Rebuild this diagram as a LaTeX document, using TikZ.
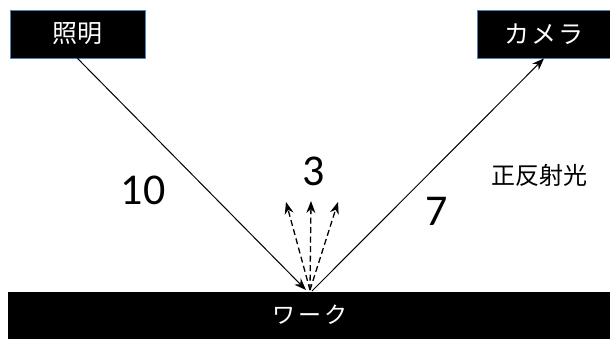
\documentclass[tikz,border=0pt]{standalone}
\usepackage{fontspec}
\usepackage{tikz}
\usetikzlibrary{arrows.meta}
\setmainfont{Carlito}
\newfontfamily\jpfont{Noto Sans CJK JP}
\definecolor{boxedge}{RGB}{79,129,189}
\tikzset{
  label box/.style={draw=boxedge,line width=0.8pt,fill=black,text=white,
    minimum height=48,inner sep=0pt,font=\jpfont\fontsize{25}{25}\selectfont},
  ray/.style={line width=1pt,-{Stealth[length=12pt,width=9pt]}},
  scatter ray/.style={ray,line width=1.3pt,dash pattern=on 6pt off 3.5pt},
  big num/.style={font=\fontsize{44}{44}\selectfont}
}
\begin{document}
\begin{tikzpicture}[x=1pt,y=-1pt]
\useasboundingbox (0,0) rectangle (610,338);
% boxes:
\node[label box,minimum width=135] (light) at (77.5,34) {照明};
\node[label box,minimum width=134] (camera) at (544,34) {カ\hspace{2pt}メ\hspace{2pt}ラ};
\path[fill=black] (8,292) rectangle (612,340);
\node[font=\jpfont\fontsize{23}{23}\selectfont,text=white] (work) at (310,315) {ワ\hspace{3pt}ー\hspace{3pt}ク};
% rays:
\coordinate (hitL) at (306,290);
\coordinate (hitR) at (312,291);
\coordinate (hitC) at (310,290);
\coordinate (sc1) at (286,202);
\coordinate (sc2) at (311,201);
\coordinate (sc3) at (338,202);
\draw[ray] (light.south) -- (hitL);
\draw[ray] (hitR) -- (camera.south);
\draw[scatter ray] (hitC) -- (sc1);
\draw[scatter ray] (hitC) -- (sc2);
\draw[scatter ray] (hitC) -- (sc3);
% labels:
\node[big num] (in) at (143,190) {10};
\node[big num] (diff) at (314,171) {3};
\node[big num] (spec) at (437,211) {7};
\node[font=\jpfont\fontsize{24}{24}\selectfont] (name) at (539,175) {正反射光};
\end{tikzpicture}
\end{document}
